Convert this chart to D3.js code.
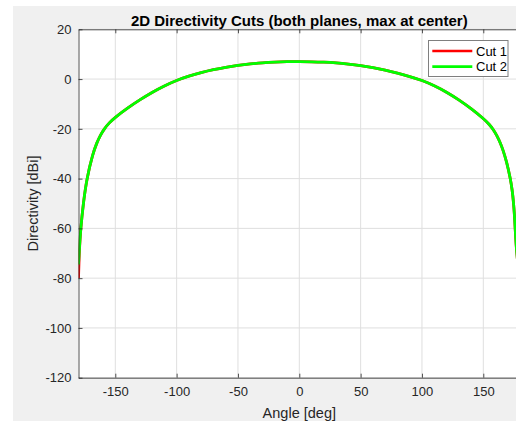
<!DOCTYPE html>
<html>
<head>
<meta charset="utf-8">
<script src="https://cdn.jsdelivr.net/npm/d3@7"></script>
<style>
  body { margin: 0; background: #fff; }
  svg { display: block; font-family: "Liberation Sans", Arial, sans-serif; }
</style>
</head>
<body>
<div id="chart"></div>
<script>
"use strict";

// angles (deg)
var angles = [-180, -179.3, -178.2, -176.1, -173.3, -168.4, -165, -162, -159, -155,
  -150, -140, -130, -120, -110, -100, -90, -80, -70, -60,
  -50, -40, -30, -20, -10, 0, 10, 20, 30, 40,
  50, 60, 70, 80, 90, 100, 110, 120, 130, 140,
  150, 155, 158, 161, 164, 166, 169, 172, 173.5, 174.7,
  175.4, 176, 176.6, 178, 180];

// Cut 2 (green), dBi
var cut2 = [-74.5, -68.5, -60, -50, -40, -30.1, -25.5, -22.4, -20.0, -17.6,
  -15.3, -11.6, -8.3, -5.3, -2.7, -0.5, 1.2, 2.6, 3.8, 4.75,
  5.5, 6.1, 6.55, 6.85, 7.0, 7.0, 6.95, 6.8, 6.5, 6.0,
  5.4, 4.6, 3.6, 2.4, 1.05, -0.5, -2.6, -5.2, -8.3, -11.8,
  -15.8, -18.2, -20.2, -22.6, -25.8, -28.4, -33.2, -39.8, -44.3, -49.8,
  -54.7, -60, -65.8, -74, -82];

// Cut 1 (red) sits under cut 2, only its start at -180 shows
var cut1 = [-80, -68.5, -60, -50, -40, -30.1, -25.5, -22.4, -20.0, -17.6,
  -15.3, -11.6, -8.3, -5.3, -2.7, -0.5, 1.2, 2.6, 3.8, 4.75,
  5.5, 6.1, 6.55, 6.85, 7.0, 7.0, 6.95, 6.8, 6.5, 6.0,
  5.4, 4.6, 3.6, 2.4, 1.05, -0.5, -2.6, -5.2, -8.3, -11.8,
  -15.8, -18.2, -20.2, -22.6, -25.8, -28.4, -33.2, -39.8, -44.3, -49.8,
  -54.7, -60, -65.8, -74, -82];

var xTicks = [-150, -100, -50, 0, 50, 100, 150];
var yTicks = [-120, -100, -80, -60, -40, -20, 0, 20];
var seriesNames = ["Cut 1", "Cut 2"];
var seriesColors = ["#ff0000", "#00ff00"];

var W = 516, H = 421;
var plot = { left: 78.5, top: 29.3, right: 520.1, bottom: 377.7 };

var svg = d3.select("#chart").append("svg")
  .attr("width", W)
  .attr("height", H);

// figure background
svg.append("rect")
  .attr("x", 13).attr("y", 6)
  .attr("width", W - 13).attr("height", H - 6)
  .attr("fill", "#f0f0f0");

var x = d3.scaleLinear().domain([-180, 180]).range([plot.left, plot.right]);
var y = d3.scaleLinear().domain([-120, 20]).range([plot.bottom, plot.top]);

svg.append("rect")
  .attr("x", plot.left).attr("y", plot.top)
  .attr("width", plot.right - plot.left).attr("height", plot.bottom - plot.top)
  .attr("fill", "#fff");

// grid
var grid = svg.append("g").attr("stroke", "#dfdfdf").attr("stroke-width", 1);
grid.selectAll(".gx").data(xTicks).enter().append("line")
  .attr("x1", function(d) { return x(d); }).attr("x2", function(d) { return x(d); })
  .attr("y1", plot.top).attr("y2", plot.bottom);
grid.selectAll(".gy").data(yTicks).enter().append("line")
  .attr("y1", function(d) { return y(d); }).attr("y2", function(d) { return y(d); })
  .attr("x1", plot.left).attr("x2", plot.right);

svg.append("clipPath").attr("id", "plotclip")
  .append("rect")
  .attr("x", plot.left).attr("y", plot.top)
  .attr("width", plot.right - plot.left).attr("height", plot.bottom - plot.top);

var line = d3.line()
  .x(function(d) { return x(d[0]); })
  .y(function(d) { return y(d[1]); })
  .curve(d3.curveBasis);

[cut1, cut2].forEach(function(vals, i) {
  svg.append("path")
    .datum(angles.map(function(a, k) { return [a, vals[k]]; }))
    .attr("clip-path", "url(#plotclip)")
    .attr("fill", "none")
    .attr("stroke", seriesColors[i])
    .attr("stroke-width", 2.8)
    .attr("d", line);
});

// axes with inward ticks on all sides
var axisColor = "#262626";
var xb = svg.append("g").attr("transform", "translate(0," + plot.bottom + ")")
  .call(d3.axisBottom(x).tickValues(xTicks).tickSizeInner(-4).tickSizeOuter(0).tickPadding(9));
var xt = svg.append("g").attr("transform", "translate(0," + plot.top + ")")
  .call(d3.axisTop(x).tickValues(xTicks).tickSizeInner(-4).tickSizeOuter(0).tickFormat(""));
var yl = svg.append("g").attr("transform", "translate(" + plot.left + ",0)")
  .call(d3.axisLeft(y).tickValues(yTicks).tickSizeInner(-4).tickSizeOuter(0).tickPadding(7));
var yr = svg.append("g").attr("transform", "translate(" + plot.right + ",0)")
  .call(d3.axisRight(y).tickValues(yTicks).tickSizeInner(-4).tickSizeOuter(0).tickFormat(""));

[xb, xt, yl, yr].forEach(function(g) {
  g.select(".domain").attr("stroke", axisColor).attr("stroke-width", 0.8);
  g.selectAll(".tick line").attr("stroke", axisColor).attr("stroke-width", 0.8);
  g.selectAll(".tick text")
    .attr("fill", axisColor)
    .style("font-size", "13px")
    .style("font-family", "'Liberation Sans', Arial, sans-serif");
});
// minus signs as plain hyphens like the reference
xb.selectAll(".tick text").text(function(d) { return String(d); });
yl.selectAll(".tick text").text(function(d) { return String(d); });

// title and labels
svg.append("text")
  .attr("x", (plot.left + plot.right) / 2).attr("y", 26)
  .attr("text-anchor", "middle")
  .attr("font-size", "15px").attr("font-weight", "bold")
  .attr("fill", "#000")
  .text("2D Directivity Cuts (both planes, max at center)");

svg.append("text")
  .attr("x", (plot.left + plot.right) / 2).attr("y", 418)
  .attr("text-anchor", "middle")
  .attr("font-size", "14.5px")
  .attr("fill", axisColor)
  .text("Angle [deg]");

svg.append("text")
  .attr("transform", "translate(37.5," + (plot.top + plot.bottom) / 2 + ") rotate(-90)")
  .attr("text-anchor", "middle")
  .attr("font-size", "14.5px")
  .attr("fill", axisColor)
  .text("Directivity [dBi]");

// legend
var legend = svg.append("g");
legend.append("rect")
  .attr("x", 428.5).attr("y", 40.5)
  .attr("width", 79.5).attr("height", 36)
  .attr("fill", "#fff")
  .attr("stroke", "#7f7f7f").attr("stroke-width", 1);
seriesNames.forEach(function(name, i) {
  var ly = 51 + i * 15.7;
  legend.append("line")
    .attr("x1", 432.3).attr("x2", 472.3)
    .attr("y1", ly).attr("y2", ly)
    .attr("stroke", seriesColors[i]).attr("stroke-width", 2.7);
  legend.append("text")
    .attr("x", 476).attr("y", ly)
    .attr("dy", "0.35em")
    .attr("font-size", "13px")
    .attr("fill", "#000")
    .text(name);
});
</script>
</body>
</html>
